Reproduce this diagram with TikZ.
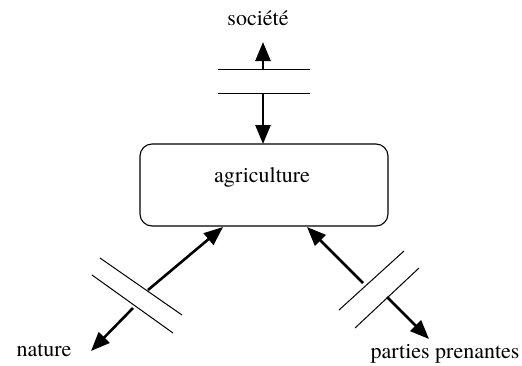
\documentclass[tikz,border=0pt]{standalone}
\usepackage{fontspec}
\setmainfont{TeX Gyre Termes}
\usetikzlibrary{arrows.meta}
\begin{document}
\begin{tikzpicture}[x=1pt,y=-1pt,
  lbl/.style={font=\fontsize{22}{26}\selectfont, inner sep=0pt},
  flow/.style={line width=2.6pt, -{Triangle[length=19pt,width=15pt]}},
  cut/.style={line width=1pt},
  boxstyle/.style={draw, line width=1.1pt, rounded corners=12pt,
    minimum width=248pt, minimum height=82pt, inner sep=0pt}]
\useasboundingbox (0,0) rectangle (522,365);

% central block
\node[boxstyle] (agri) at (264,185) {};
\node[lbl] (agritxt) at (262,177) {agriculture};

% outer partners
\node[lbl] (soc) at (258,18) {société};
\node[lbl] (nat) at (44,350) {nature};
\node[lbl] (pp) at (445,354) {parties prenantes};

% arrow tips and interrupted flow ends
\coordinate (socTip) at (263,42);
\coordinate (socA) at (263,69);
\coordinate (socB) at (263,93);
\coordinate (agriTop) at (263,144);

\coordinate (natUp) at (223,227);
\coordinate (natA) at (148,290);
\coordinate (natB) at (133,308);
\coordinate (natTip) at (91,351);

\coordinate (ppUp) at (307,227);
\coordinate (ppA) at (363,283);
\coordinate (ppB) at (387,297);
\coordinate (ppTip) at (429,339);

% double cut marks
\coordinate (c1a) at (218,69);  \coordinate (c1b) at (310,69);
\coordinate (c2a) at (218,93);  \coordinate (c2b) at (310,93);
\coordinate (n1a) at (100,258); \coordinate (n1b) at (182,315);
\coordinate (n2a) at (92,275);  \coordinate (n2b) at (173,333);
\coordinate (p1a) at (404,251); \coordinate (p1b) at (339,310);
\coordinate (p2a) at (419,268); \coordinate (p2b) at (355,328);

\draw[cut] (c1a) -- (c1b);
\draw[cut] (c2a) -- (c2b);
\draw[cut] (n1a) -- (n1b);
\draw[cut] (n2a) -- (n2b);
\draw[cut] (p1a) -- (p1b);
\draw[cut] (p2a) -- (p2b);

% flows
\draw[flow] (socA) -- (socTip);
\draw[flow] (socB) -- (agriTop);
\draw[flow] (natA) -- (natUp);
\draw[flow] (natB) -- (natTip);
\draw[flow] (ppA) -- (ppUp);
\draw[flow] (ppB) -- (ppTip);
\end{tikzpicture}
\end{document}
